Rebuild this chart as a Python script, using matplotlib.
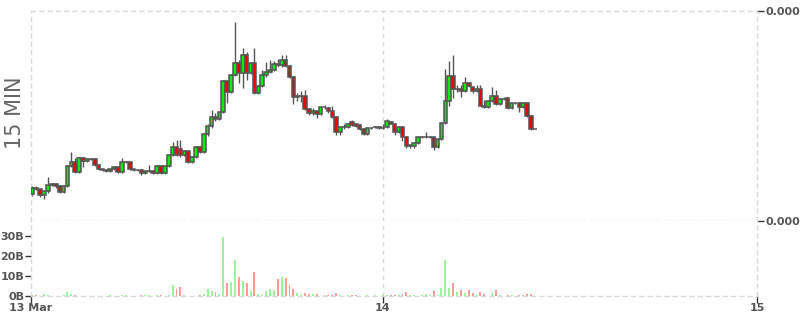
import matplotlib
matplotlib.use('Agg')
import matplotlib.pyplot as plt
import matplotlib.dates as mdates
import numpy as np
import pandas as pd

# 15 minute candles, 13 Mar 01:30 -> 14 Mar 09:45
times = pd.date_range('2024-03-13 01:30', periods=130, freq='15min')

opens = [
    6.129e-4, 6.157e-4, 6.152e-4, 6.124e-4, 6.143e-4, 6.171e-4, 6.176e-4, 6.167e-4, 6.138e-4, 6.167e-4,
    6.262e-4, 6.281e-4, 6.233e-4, 6.300e-4, 6.286e-4, 6.295e-4, 6.295e-4, 6.267e-4, 6.248e-4, 6.243e-4,
    6.238e-4, 6.248e-4, 6.257e-4, 6.233e-4, 6.281e-4, 6.281e-4, 6.248e-4, 6.243e-4, 6.243e-4, 6.229e-4,
    6.238e-4, 6.238e-4, 6.229e-4, 6.262e-4, 6.229e-4, 6.262e-4, 6.314e-4, 6.352e-4, 6.343e-4, 6.314e-4,
    6.333e-4, 6.281e-4, 6.305e-4, 6.352e-4, 6.329e-4, 6.414e-4, 6.452e-4, 6.495e-4, 6.486e-4, 6.519e-4,
    6.667e-4, 6.614e-4, 6.695e-4, 6.752e-4, 6.705e-4, 6.790e-4, 6.705e-4, 6.752e-4, 6.610e-4, 6.643e-4,
    6.695e-4, 6.710e-4, 6.719e-4, 6.748e-4, 6.743e-4, 6.767e-4, 6.738e-4, 6.686e-4, 6.590e-4, 6.595e-4,
    6.595e-4, 6.533e-4, 6.514e-4, 6.524e-4, 6.510e-4, 6.543e-4, 6.538e-4, 6.524e-4, 6.495e-4, 6.424e-4,
    6.448e-4, 6.448e-4, 6.471e-4, 6.462e-4, 6.457e-4, 6.438e-4, 6.414e-4, 6.443e-4, 6.448e-4, 6.448e-4,
    6.443e-4, 6.448e-4, 6.471e-4, 6.462e-4, 6.424e-4, 6.448e-4, 6.400e-4, 6.357e-4, 6.357e-4, 6.371e-4,
    6.400e-4, 6.400e-4, 6.400e-4, 6.400e-4, 6.352e-4, 6.390e-4, 6.467e-4, 6.571e-4, 6.690e-4, 6.629e-4,
    6.629e-4, 6.619e-4, 6.657e-4, 6.638e-4, 6.619e-4, 6.629e-4, 6.548e-4, 6.543e-4, 6.571e-4, 6.595e-4,
    6.557e-4, 6.581e-4, 6.586e-4, 6.538e-4, 6.562e-4, 6.562e-4, 6.543e-4, 6.562e-4, 6.500e-4, 6.438e-4,
]
highs = [
    6.167e-4, 6.167e-4, 6.157e-4, 6.148e-4, 6.210e-4, 6.181e-4, 6.181e-4, 6.171e-4, 6.171e-4, 6.267e-4,
    6.329e-4, 6.300e-4, 6.305e-4, 6.305e-4, 6.300e-4, 6.300e-4, 6.300e-4, 6.271e-4, 6.248e-4, 6.243e-4,
    6.252e-4, 6.262e-4, 6.262e-4, 6.300e-4, 6.286e-4, 6.286e-4, 6.248e-4, 6.248e-4, 6.248e-4, 6.243e-4,
    6.267e-4, 6.243e-4, 6.267e-4, 6.267e-4, 6.267e-4, 6.319e-4, 6.376e-4, 6.386e-4, 6.386e-4, 6.338e-4,
    6.338e-4, 6.310e-4, 6.357e-4, 6.357e-4, 6.419e-4, 6.462e-4, 6.529e-4, 6.514e-4, 6.524e-4, 6.671e-4,
    6.671e-4, 6.700e-4, 6.948e-4, 6.767e-4, 6.824e-4, 6.805e-4, 6.757e-4, 6.824e-4, 6.648e-4, 6.719e-4,
    6.757e-4, 6.767e-4, 6.762e-4, 6.771e-4, 6.790e-4, 6.790e-4, 6.743e-4, 6.690e-4, 6.610e-4, 6.619e-4,
    6.624e-4, 6.538e-4, 6.538e-4, 6.529e-4, 6.548e-4, 6.552e-4, 6.543e-4, 6.548e-4, 6.500e-4, 6.452e-4,
    6.462e-4, 6.467e-4, 6.481e-4, 6.467e-4, 6.462e-4, 6.443e-4, 6.448e-4, 6.448e-4, 6.452e-4, 6.452e-4,
    6.462e-4, 6.486e-4, 6.476e-4, 6.467e-4, 6.452e-4, 6.452e-4, 6.405e-4, 6.362e-4, 6.376e-4, 6.405e-4,
    6.405e-4, 6.424e-4, 6.405e-4, 6.405e-4, 6.395e-4, 6.471e-4, 6.724e-4, 6.762e-4, 6.790e-4, 6.648e-4,
    6.648e-4, 6.686e-4, 6.662e-4, 6.643e-4, 6.648e-4, 6.648e-4, 6.576e-4, 6.576e-4, 6.638e-4, 6.624e-4,
    6.586e-4, 6.590e-4, 6.590e-4, 6.567e-4, 6.567e-4, 6.567e-4, 6.567e-4, 6.567e-4, 6.505e-4, 6.438e-4,
]
lows = [
    6.119e-4, 6.148e-4, 6.114e-4, 6.105e-4, 6.133e-4, 6.167e-4, 6.157e-4, 6.133e-4, 6.133e-4, 6.162e-4,
    6.257e-4, 6.229e-4, 6.229e-4, 6.257e-4, 6.281e-4, 6.290e-4, 6.262e-4, 6.243e-4, 6.238e-4, 6.233e-4,
    6.233e-4, 6.243e-4, 6.229e-4, 6.229e-4, 6.276e-4, 6.243e-4, 6.238e-4, 6.238e-4, 6.219e-4, 6.224e-4,
    6.233e-4, 6.224e-4, 6.224e-4, 6.224e-4, 6.224e-4, 6.257e-4, 6.310e-4, 6.310e-4, 6.305e-4, 6.310e-4,
    6.276e-4, 6.276e-4, 6.300e-4, 6.324e-4, 6.324e-4, 6.405e-4, 6.443e-4, 6.476e-4, 6.481e-4, 6.514e-4,
    6.562e-4, 6.610e-4, 6.690e-4, 6.657e-4, 6.633e-4, 6.671e-4, 6.700e-4, 6.605e-4, 6.605e-4, 6.638e-4,
    6.686e-4, 6.705e-4, 6.714e-4, 6.733e-4, 6.733e-4, 6.733e-4, 6.681e-4, 6.557e-4, 6.571e-4, 6.567e-4,
    6.529e-4, 6.505e-4, 6.505e-4, 6.490e-4, 6.505e-4, 6.533e-4, 6.514e-4, 6.490e-4, 6.410e-4, 6.410e-4,
    6.438e-4, 6.443e-4, 6.452e-4, 6.448e-4, 6.433e-4, 6.410e-4, 6.410e-4, 6.438e-4, 6.443e-4, 6.438e-4,
    6.438e-4, 6.443e-4, 6.462e-4, 6.410e-4, 6.419e-4, 6.381e-4, 6.348e-4, 6.348e-4, 6.348e-4, 6.367e-4,
    6.395e-4, 6.395e-4, 6.395e-4, 6.338e-4, 6.348e-4, 6.386e-4, 6.462e-4, 6.548e-4, 6.586e-4, 6.614e-4,
    6.590e-4, 6.614e-4, 6.638e-4, 6.610e-4, 6.614e-4, 6.548e-4, 6.538e-4, 6.538e-4, 6.567e-4, 6.552e-4,
    6.552e-4, 6.576e-4, 6.533e-4, 6.533e-4, 6.557e-4, 6.519e-4, 6.538e-4, 6.495e-4, 6.433e-4, 6.438e-4,
]
closes = [
    6.157e-4, 6.152e-4, 6.124e-4, 6.143e-4, 6.171e-4, 6.176e-4, 6.167e-4, 6.138e-4, 6.167e-4, 6.262e-4,
    6.281e-4, 6.233e-4, 6.300e-4, 6.286e-4, 6.295e-4, 6.295e-4, 6.267e-4, 6.248e-4, 6.243e-4, 6.238e-4,
    6.248e-4, 6.257e-4, 6.233e-4, 6.281e-4, 6.281e-4, 6.248e-4, 6.243e-4, 6.243e-4, 6.229e-4, 6.238e-4,
    6.238e-4, 6.229e-4, 6.262e-4, 6.229e-4, 6.262e-4, 6.314e-4, 6.352e-4, 6.314e-4, 6.314e-4, 6.333e-4,
    6.281e-4, 6.305e-4, 6.352e-4, 6.329e-4, 6.414e-4, 6.452e-4, 6.495e-4, 6.486e-4, 6.519e-4, 6.667e-4,
    6.614e-4, 6.695e-4, 6.752e-4, 6.705e-4, 6.790e-4, 6.705e-4, 6.752e-4, 6.610e-4, 6.643e-4, 6.695e-4,
    6.710e-4, 6.719e-4, 6.748e-4, 6.743e-4, 6.767e-4, 6.738e-4, 6.686e-4, 6.590e-4, 6.595e-4, 6.595e-4,
    6.533e-4, 6.514e-4, 6.524e-4, 6.510e-4, 6.543e-4, 6.543e-4, 6.524e-4, 6.495e-4, 6.424e-4, 6.448e-4,
    6.448e-4, 6.462e-4, 6.457e-4, 6.452e-4, 6.438e-4, 6.414e-4, 6.443e-4, 6.443e-4, 6.448e-4, 6.443e-4,
    6.443e-4, 6.476e-4, 6.462e-4, 6.424e-4, 6.448e-4, 6.400e-4, 6.357e-4, 6.360e-4, 6.371e-4, 6.400e-4,
    6.400e-4, 6.400e-4, 6.400e-4, 6.352e-4, 6.390e-4, 6.467e-4, 6.571e-4, 6.690e-4, 6.629e-4, 6.629e-4,
    6.619e-4, 6.657e-4, 6.643e-4, 6.619e-4, 6.629e-4, 6.548e-4, 6.543e-4, 6.571e-4, 6.595e-4, 6.557e-4,
    6.581e-4, 6.581e-4, 6.538e-4, 6.562e-4, 6.562e-4, 6.543e-4, 6.562e-4, 6.500e-4, 6.438e-4, 6.438e-4,
]
# volume in billions
volumes = [
    0.3, 0.3, 0.2, 1.0, 0.5, 0.1, 0.1, 0.1, 0.5, 2.2,
    1.0, 0.5, 0.2, 0.2, 0.2, 0.2, 0.2, 0.2, 0.2, 0.2,
    0.5, 0.2, 0.2, 0.5, 0.5, 0.2, 0.2, 0.2, 0.5, 0.5,
    0.5, 0.2, 0.5, 0.5, 0.1, 0.5, 5.5, 3.5, 4.3, 0.5,
    0.1, 0.1, 0.1, 0.5, 1.0, 3.5, 2.5, 2.0, 1.0, 29.7,
    6.7, 7.0, 18.0, 9.5, 7.5, 6.7, 2.5, 12.0, 1.0, 0.5,
    2.7, 3.5, 3.2, 8.5, 9.5, 9.0, 5.5, 3.5, 1.5, 0.5,
    1.5, 1.0, 1.0, 1.0, 0.2, 0.5, 0.5, 0.5, 1.5, 0.5,
    0.1, 0.5, 0.5, 0.5, 0.2, 0.2, 0.5, 0.1, 0.5, 0.1,
    0.5, 0.5, 0.5, 0.5, 0.5, 1.0, 2.0, 0.5, 0.5, 0.2,
    0.5, 1.0, 0.5, 2.5, 0.5, 4.0, 18.0, 4.0, 6.7, 2.0,
    3.0, 1.5, 3.0, 1.5, 1.0, 2.0, 1.0, 0.2, 1.5, 3.0,
    0.5, 0.2, 0.3, 0.5, 0.2, 0.3, 0.3, 1.0, 1.0, 0.2,
]

price_ticks = [0.0006, 0.0007]
vol_ticks = [0, 10, 20, 30]
day_ticks = ['2024-03-14', '2024-03-15']
day_labels = ['14', '15']

GRID = '#d9d9d9'
EDGE = '#555555'
TXT = '#555555'

x = mdates.date2num(times)
o = np.array(opens)
c = np.array(closes)
up = c >= o

fig = plt.figure(figsize=(8, 3.15), dpi=100)
ax = fig.add_axes([31/800, 94/315, 726/800, 210/315])
axv = fig.add_axes([31/800, 19/315, 726/800, 75/315], sharex=ax)

w = 1/96
# wicks then bodies
ax.vlines(x, lows, highs, color=EDGE, lw=1, zorder=2)
ax.bar(x, np.abs(c - o), bottom=np.minimum(o, c), width=w*0.92,
       color=np.where(up, '#00ee00', '#ee0000'), edgecolor=EDGE, linewidth=1.1, zorder=3)

axv.bar(x, volumes, width=w*0.5, color=np.where(up, '#9af59a', '#ff9a9a'), zorder=2)

d14 = mdates.date2num(pd.Timestamp(day_ticks[0]))
d15 = mdates.date2num(pd.Timestamp(day_ticks[1]))
left = d14 - (383 - 31) / 374 * (d15 - d14)
ax.set_xlim(left, d15)
ax.set_ylim(price_ticks[0], price_ticks[1])
axv.set_ylim(0, 37.5)

for a in (ax, axv):
    for s in a.spines.values():
        s.set_color(GRID)
        s.set_linestyle((0, (3, 3)))
        s.set_linewidth(1)
    a.axvline(d14, color=GRID, lw=1, ls=(0, (3, 3)), zorder=0)
axv.spines['top'].set_visible(False)

ax.yaxis.tick_right()
ax.set_yticks(price_ticks)
ax.set_yticklabels(['0.0006', '0.0007'])
ax.tick_params(axis='y', length=5, width=1, color='#333333', labelcolor=TXT,
               labelsize=8, pad=1)
ax.tick_params(axis='x', bottom=False, labelbottom=False)
for t in ax.get_yticklabels():
    t.set_fontweight('bold')

axv.set_yticks(vol_ticks)
axv.set_yticklabels(['%dB' % v for v in vol_ticks])
axv.tick_params(axis='y', length=4, width=1, color='#333333', labelcolor=TXT,
                labelsize=8, pad=1)
axv.set_xticks([left, d14, d15])
axv.set_xticklabels(['13 Mar'] + day_labels)
axv.tick_params(axis='x', length=5, width=1, color='#333333', labelcolor=TXT,
                labelsize=8, pad=0)
for t in axv.get_yticklabels() + axv.get_xticklabels():
    t.set_fontweight('bold')

fig.text(15/800, 1 - 113/315, '15 MIN', rotation=90, ha='center', va='center',
         fontsize=15, color='#666666')

fig.savefig('out.png', dpi=100)
